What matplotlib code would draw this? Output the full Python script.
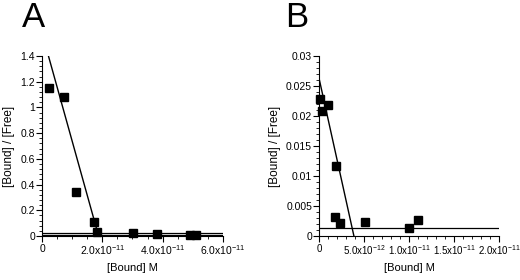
import matplotlib
matplotlib.use('Agg')
import matplotlib.pyplot as plt
from matplotlib.ticker import MultipleLocator, FuncFormatter

plt.rcParams['font.family'] = ['Liberation Sans', 'DejaVu Sans']
plt.rcParams['mathtext.default'] = 'regular'

# Panel A data (x in M)
a_x = [0.24e-11, 0.74e-11, 1.14e-11, 1.74e-11, 1.83e-11, 3.03e-11, 3.80e-11, 4.92e-11, 5.12e-11]
a_y = [1.15, 1.08, 0.34, 0.11, 0.035, 0.025, 0.015, 0.01, 0.005]
a_fit_x = [0.0, 1.9e-11]
a_fit_y = [1.58, -0.02]
a_flat_x = [0.0, 6.0e-11]
a_flat_y1 = [0.02, 0.02]
a_flat_y2 = [0.008, 0.008]

# Panel B data
b_x = [0.11e-12, 0.3e-12, 1.0e-12, 1.9e-12, 1.8e-12, 2.3e-12, 5.1e-12, 10.0e-12, 11.0e-12]
b_y = [0.0229, 0.0208, 0.0219, 0.0117, 0.0032, 0.0021, 0.0023, 0.0014, 0.0026]
b_fit_x = [0.0, 3.88e-12]
b_fit_y = [0.0263, 0.0]
b_flat_x = [0.0, 2.0e-11]
b_flat_y = [0.0014, 0.0014]

a_xticks = [0, 2e-11, 4e-11, 6e-11]
a_xlabels = ['0', r'2.0x10$^{-11}$', r'4.0x10$^{-11}$', r'6.0x10$^{-11}$']
b_xticks = [0, 5e-12, 1e-11, 1.5e-11, 2e-11]
b_xlabels = ['0', r'5.0x10$^{-12}$', r'1.0x10$^{-11}$', r'1.5x10$^{-11}$', r'2.0x10$^{-11}$']

fig = plt.figure(figsize=(5.2, 2.8), dpi=100)
axA = fig.add_axes([0.0808, 0.157, 0.348, 0.643])
axB = fig.add_axes([0.6135, 0.157, 0.346, 0.643])


def style(ax, xticks, xlabels, xminor, ymajor, yminor, ylim, xsize):
    for s in ['top', 'right']:
        ax.spines[s].set_visible(False)
    ax.set_xlim(xticks[0], xticks[-1])
    ax.set_ylim(*ylim)
    ax.set_xticks(xticks)
    ax.set_xticklabels(xlabels)
    ax.xaxis.set_minor_locator(MultipleLocator(xminor))
    ax.yaxis.set_major_locator(MultipleLocator(ymajor))
    ax.yaxis.set_minor_locator(MultipleLocator(yminor))
    ax.yaxis.set_major_formatter(FuncFormatter(lambda v, p: '%g' % round(v, 6)))
    ax.tick_params(which='major', length=4, width=0.8, labelsize=7.5, direction='out')
    ax.tick_params(which='minor', length=2, width=0.6, direction='out')
    ax.tick_params(axis='x', pad=1.5, labelsize=xsize)
    ax.tick_params(axis='y', pad=1)
    ax.set_xlabel('[Bound] M', fontsize=8, labelpad=4)
    ax.set_ylabel('[Bound] / [Free]', fontsize=8.5, labelpad=4)


axA.plot(a_fit_x, a_fit_y, color='black', lw=1.0)
axA.plot(a_flat_x, a_flat_y1, color='black', lw=0.9)
axA.plot(a_flat_x, a_flat_y2, color='black', lw=0.9)
axA.plot(a_x, a_y, 's', color='black', ms=6, clip_on=False)
style(axA, a_xticks, a_xlabels, 0.5e-11, 0.2, 0.04, (0, 1.4), 7.5)

axB.plot(b_fit_x, b_fit_y, color='black', lw=1.0)
axB.plot(b_flat_x, b_flat_y, color='black', lw=0.9)
axB.plot(b_x, b_y, 's', color='black', ms=6, clip_on=False)
style(axB, b_xticks, b_xlabels, 1e-12, 0.005, 0.001, (0, 0.03), 7)

fig.text(0.042, 0.995, 'A', fontsize=25, va='top', ha='left')
fig.text(0.548, 0.995, 'B', fontsize=25, va='top', ha='left')

fig.savefig('out.png', dpi=100)
